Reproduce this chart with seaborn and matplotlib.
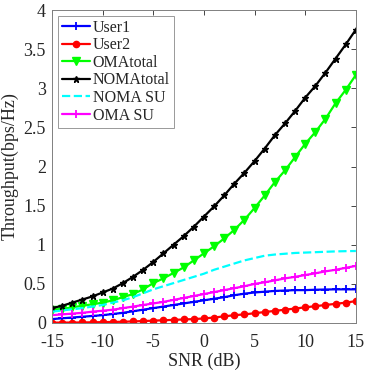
import numpy as np
import pandas as pd
import matplotlib
matplotlib.use("Agg")
import matplotlib.pyplot as plt
import seaborn as sns

snr = list(range(-15, 16))

user1 = [0.05, 0.06, 0.07, 0.08, 0.09, 0.10, 0.115, 0.13, 0.15, 0.17, 0.19, 0.21, 0.23, 0.25, 0.27, 0.29,
         0.31, 0.33, 0.355, 0.375, 0.39, 0.40, 0.41, 0.415, 0.42, 0.42, 0.425, 0.428, 0.43, 0.43, 0.43]
user2 = [0.005, 0.005, 0.006, 0.007, 0.009, 0.011, 0.013, 0.016, 0.02, 0.025, 0.03, 0.035, 0.04, 0.045, 0.05, 0.058,
         0.07, 0.085, 0.10, 0.11, 0.125, 0.14, 0.155, 0.17, 0.185, 0.20, 0.215, 0.23, 0.245, 0.26, 0.28]
oma_total = [0.17, 0.18, 0.20, 0.22, 0.24, 0.26, 0.29, 0.33, 0.37, 0.43, 0.51, 0.57, 0.64, 0.71, 0.80, 0.89,
             0.98, 1.08, 1.19, 1.32, 1.47, 1.63, 1.80, 1.95, 2.12, 2.29, 2.44, 2.61, 2.81, 2.98, 3.17]
noma_total = [0.19, 0.22, 0.26, 0.30, 0.34, 0.39, 0.44, 0.51, 0.59, 0.68, 0.78, 0.89, 1.00, 1.11, 1.23, 1.36,
              1.49, 1.63, 1.78, 1.92, 2.07, 2.23, 2.40, 2.55, 2.71, 2.88, 3.03, 3.20, 3.38, 3.56, 3.75]
noma_su = [0.145, 0.16, 0.175, 0.19, 0.21, 0.23, 0.26, 0.29, 0.33, 0.38, 0.43, 0.47, 0.51, 0.55, 0.59, 0.63,
           0.68, 0.72, 0.76, 0.80, 0.83, 0.86, 0.875, 0.885, 0.895, 0.90, 0.905, 0.91, 0.915, 0.918, 0.92]
oma_su = [0.10, 0.11, 0.12, 0.13, 0.145, 0.157, 0.17, 0.19, 0.21, 0.23, 0.25, 0.27, 0.295, 0.32, 0.345, 0.37,
          0.395, 0.42, 0.445, 0.47, 0.50, 0.52, 0.545, 0.57, 0.59, 0.613, 0.635, 0.66, 0.68, 0.705, 0.73]

series_names = ["User1", "User2", "OMAtotal", "NOMAtotal", "NOMA SU", "OMA SU"]
series_vals = [user1, user2, oma_total, noma_total, noma_su, oma_su]

sns.set_theme(style="white")
plt.rcParams['font.family'] = ['Liberation Serif', 'DejaVu Serif']
plt.rcParams['axes.unicode_minus'] = False

fig = plt.figure(figsize=(3.65, 3.71), dpi=100)
ax = fig.add_axes([0.1425, 0.1294, 0.8325, 0.8436])

styles = {
    "User1": dict(color="#0000FF", marker="+", markersize=6, linestyle="-", markeredgewidth=1.3),
    "User2": dict(color="#FF0000", marker="o", markersize=4.5, linestyle="-"),
    "OMAtotal": dict(color="#00FF00", marker="v", markersize=6, linestyle="-"),
    "NOMAtotal": dict(color="#000000", marker="*", markersize=4.5, linestyle="-"),
    "NOMA SU": dict(color="#00FFFF", marker=None, linestyle="--"),
    "OMA SU": dict(color="#FF00FF", marker="+", markersize=6, linestyle="-", markeredgewidth=1.3),
}

for name, vals in zip(series_names, series_vals):
    df = pd.DataFrame({"SNR": snr, "val": vals})
    st = styles[name]
    kw = dict(color=st["color"], linewidth=1.6, label=name, linestyle=st["linestyle"])
    if st["marker"] is not None:
        kw.update(marker=st["marker"], markersize=st["markersize"],
                  markeredgecolor=st["color"], markerfacecolor=st["color"],
                  markeredgewidth=st.get("markeredgewidth", 1.0))
    sns.lineplot(data=df, x="SNR", y="val", ax=ax, **kw)

ax.set_xlim(-15, 15)
ax.set_ylim(0, 4)
ax.set_xticks([-15, -10, -5, 0, 5, 10, 15])
ax.set_yticks([0, 0.5, 1, 1.5, 2, 2.5, 3, 3.5, 4])
ax.set_yticklabels(["0", "0.5", "1", "1.5", "2", "2.5", "3", "3.5", "4"])
ax.set_xlabel("SNR (dB)", fontsize=13, color="#262626", labelpad=1)
ax.set_ylabel("Throughput(bps/Hz)", fontsize=13, color="#262626", labelpad=3)
ax.tick_params(direction="in", top=True, right=True, length=3.5, width=0.6,
               labelsize=13, colors="#262626")
ax.tick_params(axis="x", pad=8)
ax.tick_params(axis="y", pad=4.5)
for sp in ax.spines.values():
    sp.set_visible(True)
    sp.set_color("#808080")
    sp.set_linewidth(0.7)

leg = ax.legend(loc="upper left", fontsize=11.5, frameon=True, fancybox=False,
                handlelength=1.75, handletextpad=0.2, labelspacing=0.1,
                borderpad=0.25, borderaxespad=0.35)
leg.get_frame().set_edgecolor("#808080")
leg.get_frame().set_linewidth(0.7)

fig.savefig("out.png", dpi=100)
